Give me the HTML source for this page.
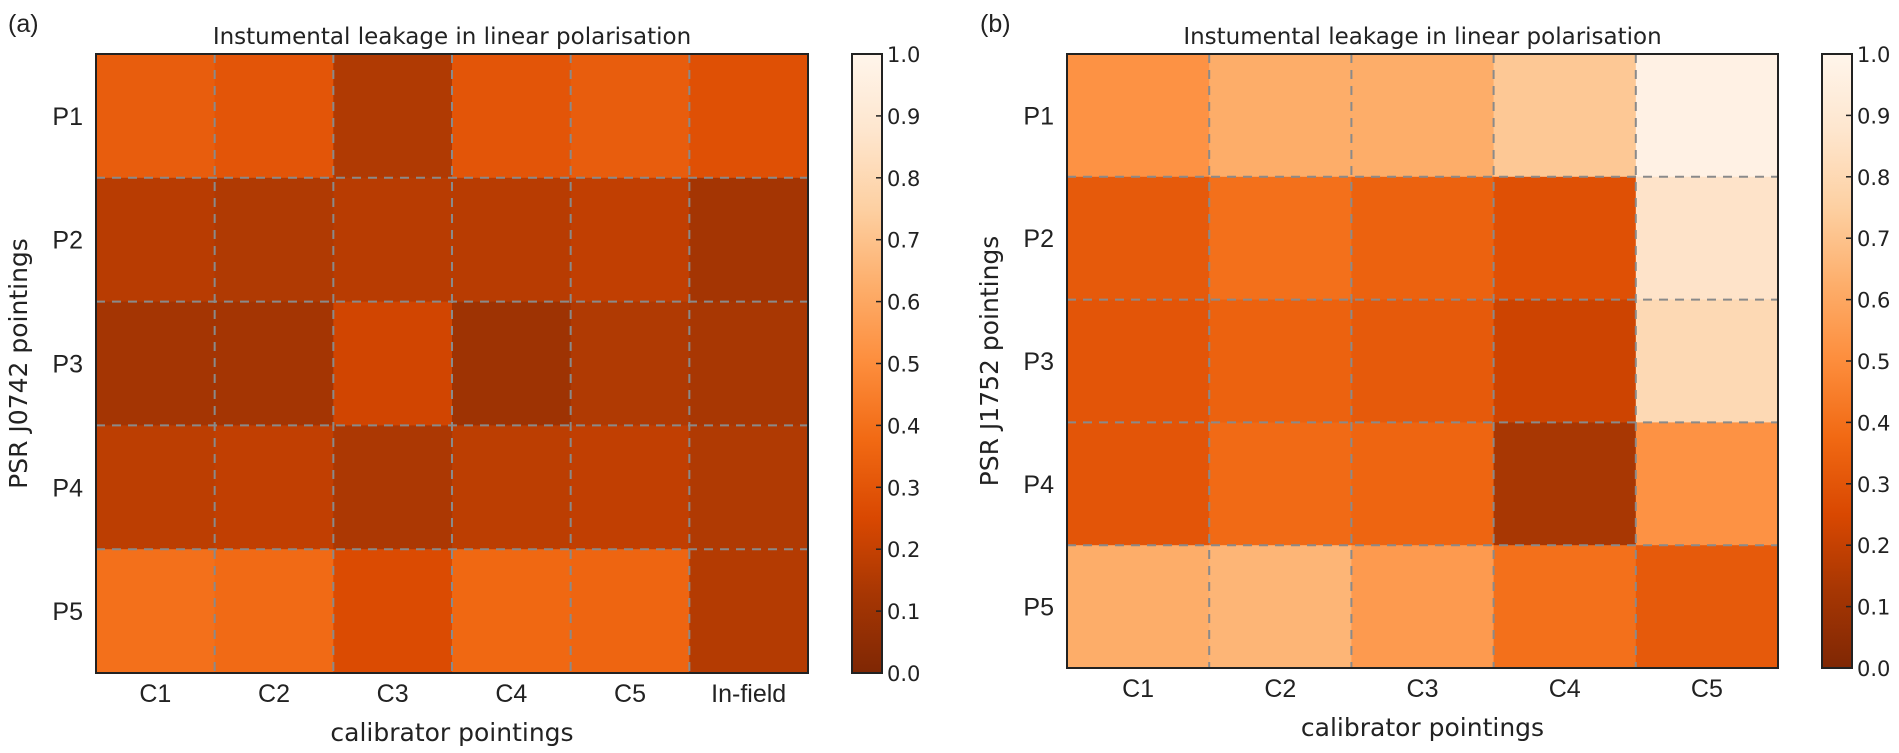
<!DOCTYPE html>
<html><head><meta charset="utf-8"><style>
html,body{margin:0;padding:0;background:#fff;}
svg{display:block;}
text{fill:#222;}
.tk{font-family:"Liberation Sans",sans-serif;font-size:25px;}
.dv{font-family:"DejaVu Sans","Liberation Sans",sans-serif;}
</style></head><body>
<svg id="chart" width="1899" height="753" viewBox="0 0 1899 753" xmlns="http://www.w3.org/2000/svg">
<defs>
<linearGradient id="cbgrad" x1="0" y1="1" x2="0" y2="0">
<stop offset="0" stop-color="#7f2704"/><stop offset="0.125" stop-color="#a63603"/>
<stop offset="0.25" stop-color="#d94801"/><stop offset="0.375" stop-color="#f16913"/>
<stop offset="0.5" stop-color="#fd8d3c"/><stop offset="0.625" stop-color="#fdae6b"/>
<stop offset="0.75" stop-color="#fdd0a2"/><stop offset="0.875" stop-color="#fee6ce"/>
<stop offset="1" stop-color="#fff5eb"/>
</linearGradient>
</defs>
</svg>
<script>
const rowsA = ["P1","P2","P3","P4","P5"];
const colsA = ["C1","C2","C3","C4","C5","In-field"];
const valuesA = [
 [0.33,0.30,0.15,0.30,0.33,0.28],
 [0.17,0.15,0.17,0.17,0.19,0.12],
 [0.12,0.12,0.23,0.10,0.15,0.13],
 [0.18,0.19,0.14,0.18,0.19,0.15],
 [0.40,0.38,0.26,0.37,0.36,0.16]
];
const rowsB = ["P1","P2","P3","P4","P5"];
const colsB = ["C1","C2","C3","C4","C5"];
const valuesB = [
 [0.52,0.62,0.62,0.72,0.97],
 [0.32,0.40,0.35,0.28,0.86],
 [0.30,0.35,0.32,0.22,0.80],
 [0.30,0.38,0.36,0.13,0.52],
 [0.62,0.65,0.55,0.40,0.32]
];
const cbTicks = [0.0,0.1,0.2,0.3,0.4,0.5,0.6,0.7,0.8,0.9,1.0];

const NS="http://www.w3.org/2000/svg";
const svg=document.getElementById('chart');
const stops=["#fff5eb","#fee6ce","#fdd0a2","#fdae6b","#fd8d3c","#f16913","#d94801","#a63603","#7f2704"];
function hex(c){return [1,3,5].map(i=>parseInt(c.substr(i,2),16));}
function color(v){
  let t=Math.max(0,Math.min(1,1-v))*8;let i=Math.min(7,Math.floor(t));let f=t-i;
  const a=hex(stops[i]),b=hex(stops[i+1]);
  return 'rgb('+a.map((x,k)=>Math.round(x+(b[k]-x)*f)).join(',')+')';
}
function el(tag,attrs,parent){const e=document.createElementNS(NS,tag);for(const k in attrs)e.setAttribute(k,attrs[k]);(parent||svg).appendChild(e);return e;}
function txt(s,attrs,parent){const e=el('text',attrs,parent);e.textContent=s;return e;}

function heatmap(cfg){
  const {x0,y0,x1,y1,rows,cols,vals,cbx,title,ylab,panel,panelX,key}=cfg;
  const g=el('g',{});
  
  
  const cw=(x1-x0)/cols.length, rh=(y1-y0)/rows.length;
  const xs=j=>x0+j*cw, ys=i=>y0+i*rh;
  vals.forEach((row,i)=>row.forEach((v,j)=>{
    const r=el('rect',{x:xs(j),y:ys(i),width:cw+0.5,height:rh+0.5,fill:color(v)},g);
    
    
  }));
  for(let j=1;j<cols.length;j++){const l=el('line',{x1:xs(j),x2:xs(j),y1:y0,y2:y1,stroke:'#8a8a8a','stroke-width':2,'stroke-dasharray':'9 7'},g);
    }
  for(let i=1;i<rows.length;i++){const l=el('line',{x1:x0,x2:x1,y1:ys(i),y2:ys(i),stroke:'#8a8a8a','stroke-width':2,'stroke-dasharray':'9 7'},g);
    }
  const fr=el('rect',{x:x0,y:y0,width:x1-x0,height:y1-y0,fill:'none',stroke:'#222','stroke-width':2},g);
  
  rows.forEach((r,i)=>{const t=txt(r,{x:x0-13,y:ys(i)+rh/2+9,'text-anchor':'end',class:'tk'},g);
    });
  cols.forEach((c,j)=>{const t=txt(c,{x:xs(j)+cw/2,y:y1+29,'text-anchor':'middle',class:'tk'},g);
    });
  const tt=txt(title,{x:(x0+x1)/2,y:y0-10,'text-anchor':'middle',class:'dv','font-size':23},g);
  
  const xl=txt('calibrator pointings',{x:(x0+x1)/2,y:y1+68,'text-anchor':'middle',class:'dv','font-size':25},g);
  
  const yl=txt(ylab,{x:0,y:0,'text-anchor':'middle',class:'dv','font-size':25,transform:'translate('+(x0-69)+','+((y0+y1)/2)+') rotate(-90)'},g);
  
  const pl=txt(panel,{x:panelX,y:32,class:'tk','font-size':31},g);
  
  const cb=el('g',{},g);
  
  el('rect',{x:cbx,y:y0,width:30,height:y1-y0,fill:'url(#cbgrad)',stroke:'#222','stroke-width':2},cb);
  const cy=v=>y1-v*(y1-y0);
  cbTicks.forEach(v=>{
    el('line',{x1:cbx+30,x2:cbx+24,y1:cy(v),y2:cy(v),stroke:'#222','stroke-width':1.5},cb);
    const t=txt(v.toFixed(1),{x:cbx+35,y:cy(v)+8,class:'dv','font-size':21},cb);
    
  });
}
heatmap({key:'panel-a',x0:96,y0:54,x1:808,y1:673,rows:rowsA,cols:colsA,vals:valuesA,cbx:852,
  title:'Instumental leakage in linear polarisation',ylab:'PSR J0742 pointings',panel:'(a)',panelX:8});
heatmap({key:'panel-b',x0:1067,y0:54,x1:1778,y1:668,rows:rowsB,cols:colsB,vals:valuesB,cbx:1822,
  title:'Instumental leakage in linear polarisation',ylab:'PSR J1752 pointings',panel:'(b)',panelX:980});
</script>
</body></html>
